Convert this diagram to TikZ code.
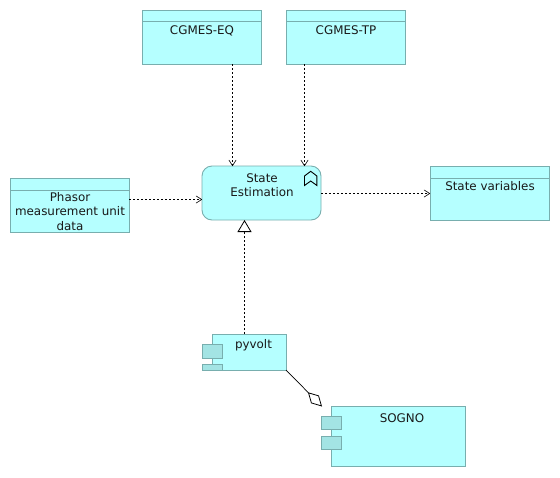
\documentclass[tikz,border=0pt]{standalone}
\usepackage{fontspec}
\setmainfont{DejaVu Sans}
\usetikzlibrary{arrows.meta,calc}
\definecolor{boxfill}{HTML}{B5FFFF}
\definecolor{boxline}{HTML}{78AEAE}
\definecolor{tabfill}{HTML}{A3E4E4}
\tikzset{
  elem/.style={draw=boxline,fill=boxfill,line width=.9pt,inner sep=0pt,outer sep=0pt,anchor=north west},
  dataobj/.style={elem,minimum width=119pt,minimum height=54pt},
  tabbox/.style={draw=boxline,fill=tabfill,line width=.9pt,inner sep=0pt,outer sep=0pt,anchor=north west,minimum width=20pt},
  sep/.style={draw=boxline,line width=.9pt},
  txt/.style={font=\fontsize{11.9}{14.3}\selectfont,align=center,inner sep=0pt,text=black!90},
  flow/.style={draw=black,line width=.6pt,dash pattern=on 2pt off 2pt,-{Straight Barb[length=5.5pt,width=7pt,line width=.6pt,round]}},
  realize/.style={draw=black,line width=.6pt,dash pattern=on 2pt off 2pt},
  tri/.style={-{Triangle[open,fill=white,length=12pt,width=14pt,line width=.8pt]}},
  aggr/.style={draw=black,line width=.7pt,-{Diamond[open,fill=white,length=20pt,width=11pt,line width=.8pt]}}
}
\begin{document}
\begin{tikzpicture}[x=1pt,y=-1pt]
\useasboundingbox (0,0) rectangle (560,477);
% data objects
\node[dataobj] (eq) at (142,10) {};
\node[dataobj] (tp) at (286,10) {};
\node[dataobj] (pmu) at (10,178) {};
\node[dataobj] (sv) at (430,166) {};
\draw[sep] (142,21.5) -- (261,21.5);
\draw[sep] (286,21.5) -- (405,21.5);
\draw[sep] (10,190) -- (129,190);
\draw[sep] (430,178) -- (549,178);
\node[txt] (eqt) at (202,30.5) {CGMES-EQ};
\node[txt] (tpt) at (346,30.5) {CGMES-TP};
\node[txt] (pmut) at (70,211.5) {Phasor\\measurement unit\\data};
\node[txt] (svt) at (490,186) {State variables};
% function
\node[elem,rounded corners=10pt,minimum width=119pt,minimum height=54pt] (se) at (202,166) {};
\node[txt] (set) at (262,185) {State\\Estimation};
\draw[black,line width=.9pt,line join=miter] (304.5,176) -- (310.7,171.3) -- (316.9,176) -- (316.9,185.5) -- (310.7,181) -- (304.5,185.5) -- cycle;
% components
\node[elem,minimum width=74pt,minimum height=36pt] (py) at (212,334) {};
\node[tabbox,minimum height=14pt] (pt1) at (202,344) {};
\path[draw=boxline,fill=tabfill,line width=.9pt] (202,370) -- (202,364) -- (222,364) -- (222,370) -- cycle;
\node[txt] (pyt) at (253.5,345) {pyvolt};
\node[elem,minimum width=134pt,minimum height=60pt] (so) at (331,406) {};
\node[tabbox,minimum height=13.5pt] (st1) at (321,416) {};
\node[tabbox,minimum height=13.5pt] (st2) at (321,436) {};
\node[txt] (sot) at (402,418) {SOGNO};
% connectors
\coordinate (xa) at (232.5,0);
\coordinate (xb) at (304.5,0);
\coordinate (xc) at (244.5,0);
\coordinate (ya) at (0,199.5);
\coordinate (yb) at (0,193.5);
\draw[flow] (eq.south -| xa) -- (se.north -| xa);
\draw[flow] (tp.south -| xb) -- (se.north -| xb);
\draw[flow] (pmu.east |- ya) -- (se.west |- ya);
\draw[flow] (se.east |- yb) -- (sv.west |- yb);
\draw[realize] (py.north -| xc) -- ($(se.south -| xc)+(0,11)$);
\draw[tri,solid,line width=.8pt] ($(se.south -| xc)+(0,11.5)$) -- (se.south -| xc);
\coordinate (aggtip) at (322,406.5);
\draw[aggr] (py.south east) -- (aggtip);
\end{tikzpicture}
\end{document}
